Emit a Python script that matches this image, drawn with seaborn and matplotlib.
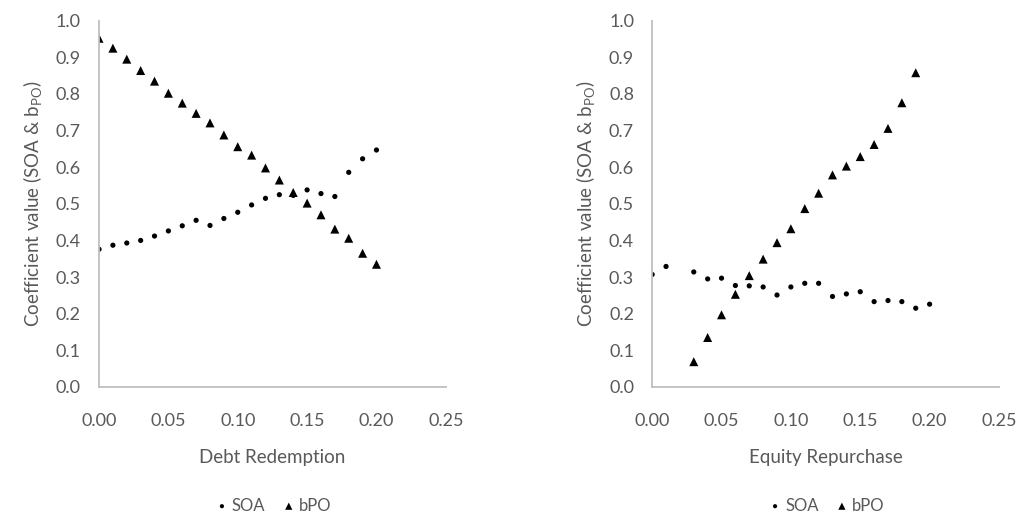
import numpy as np
import pandas as pd
import matplotlib.pyplot as plt
import seaborn as sns

# Debt redemption panel
debt_x = [0.00, 0.01, 0.02, 0.03, 0.04, 0.05, 0.06, 0.07, 0.08, 0.09, 0.10,
          0.11, 0.12, 0.13, 0.14, 0.15, 0.16, 0.17, 0.18, 0.19, 0.20]
debt_soa = [0.376, 0.387, 0.393, 0.400, 0.412, 0.426, 0.440, 0.455, 0.441, 0.460, 0.477,
            0.497, 0.515, 0.525, 0.523, 0.538, 0.528, 0.520, 0.586, 0.623, 0.647]
debt_bpo = [0.952, 0.925, 0.895, 0.864, 0.835, 0.802, 0.775, 0.747, 0.721, 0.688, 0.656,
            0.633, 0.598, 0.565, 0.531, 0.502, 0.470, 0.431, 0.406, 0.365, 0.335]

# Equity repurchase panel
eq_soa_x = [0.00, 0.01, 0.03, 0.04, 0.05, 0.06, 0.07, 0.08, 0.09, 0.10, 0.11,
            0.12, 0.13, 0.14, 0.15, 0.16, 0.17, 0.18, 0.19, 0.20]
eq_soa = [0.307, 0.329, 0.314, 0.295, 0.297, 0.277, 0.276, 0.273, 0.251, 0.273, 0.283,
          0.283, 0.247, 0.254, 0.260, 0.233, 0.236, 0.233, 0.215, 0.226]
eq_bpo_x = [0.03, 0.04, 0.05, 0.06, 0.07, 0.08, 0.09, 0.10, 0.11, 0.12, 0.13,
            0.14, 0.15, 0.16, 0.17, 0.18, 0.19]
eq_bpo = [0.069, 0.135, 0.197, 0.253, 0.304, 0.349, 0.394, 0.432, 0.487, 0.529, 0.579,
          0.603, 0.629, 0.662, 0.706, 0.776, 0.858]

x_ticks = [0.00, 0.05, 0.10, 0.15, 0.20, 0.25]
y_ticks = [0.0, 0.1, 0.2, 0.3, 0.4, 0.5, 0.6, 0.7, 0.8, 0.9, 1.0]

sns.set_style('white')
plt.rcParams['font.family'] = ['Lato', 'DejaVu Sans']
TXT = '#595959'
AX = '#BFBFBF'

fig = plt.figure(figsize=(10.23, 5.18), dpi=100)
ax1 = fig.add_axes([0.0968, 0.253, 0.339, 0.707])
ax2 = fig.add_axes([0.6375, 0.253, 0.339, 0.707])

panels = [
    (ax1, debt_x, debt_soa, debt_x, debt_bpo, 'Debt Redemption'),
    (ax2, eq_soa_x, eq_soa, eq_bpo_x, eq_bpo, 'Equity Repurchase'),
]

for ax, sx, sy, bx, by, title in panels:
    sns.scatterplot(x=sx, y=sy, ax=ax, marker='o', s=14, color='black',
                    edgecolor='none', label='SOA', legend=False)
    sns.scatterplot(x=bx, y=by, ax=ax, marker='^', s=42, color='black',
                    edgecolor='none', label='bPO', legend=False)
    ax.set_xlim(0, 0.25)
    ax.set_ylim(0, 1.0)
    ax.set_xticks(x_ticks)
    ax.set_yticks(y_ticks)
    ax.set_xticklabels([f'{v:.2f}' for v in x_ticks])
    ax.set_yticklabels([f'{v:.1f}' for v in y_ticks])
    for side in ['top', 'right']:
        ax.spines[side].set_visible(False)
    for side in ['left', 'bottom']:
        ax.spines[side].set_color(AX)
        ax.spines[side].set_linewidth(1.3)
    ax.tick_params(axis='both', colors=AX, labelcolor=TXT, labelsize=13,
                   length=5, width=1.0, direction='out', pad=8)
    ax.tick_params(axis='x', pad=14)
    ax.set_xlabel(title, fontsize=13.5, color=TXT, labelpad=14)
    ax.set_ylabel('Coefficient value (SOA & b$_{\\mathregular{PO}}$)', fontsize=13.5,
                  color=TXT, labelpad=8)
    h, l = ax.get_legend_handles_labels()
    pos = ax.get_position()
    fig.legend(h, l, loc='center', ncol=2, frameon=False,
               bbox_to_anchor=((pos.x0 + pos.x1) / 2, 0.024),
               fontsize=12, labelcolor=TXT, handletextpad=0.1,
               columnspacing=0.9, handlelength=1.0, markerscale=0.8)

fig.savefig('out.png', dpi=100)
